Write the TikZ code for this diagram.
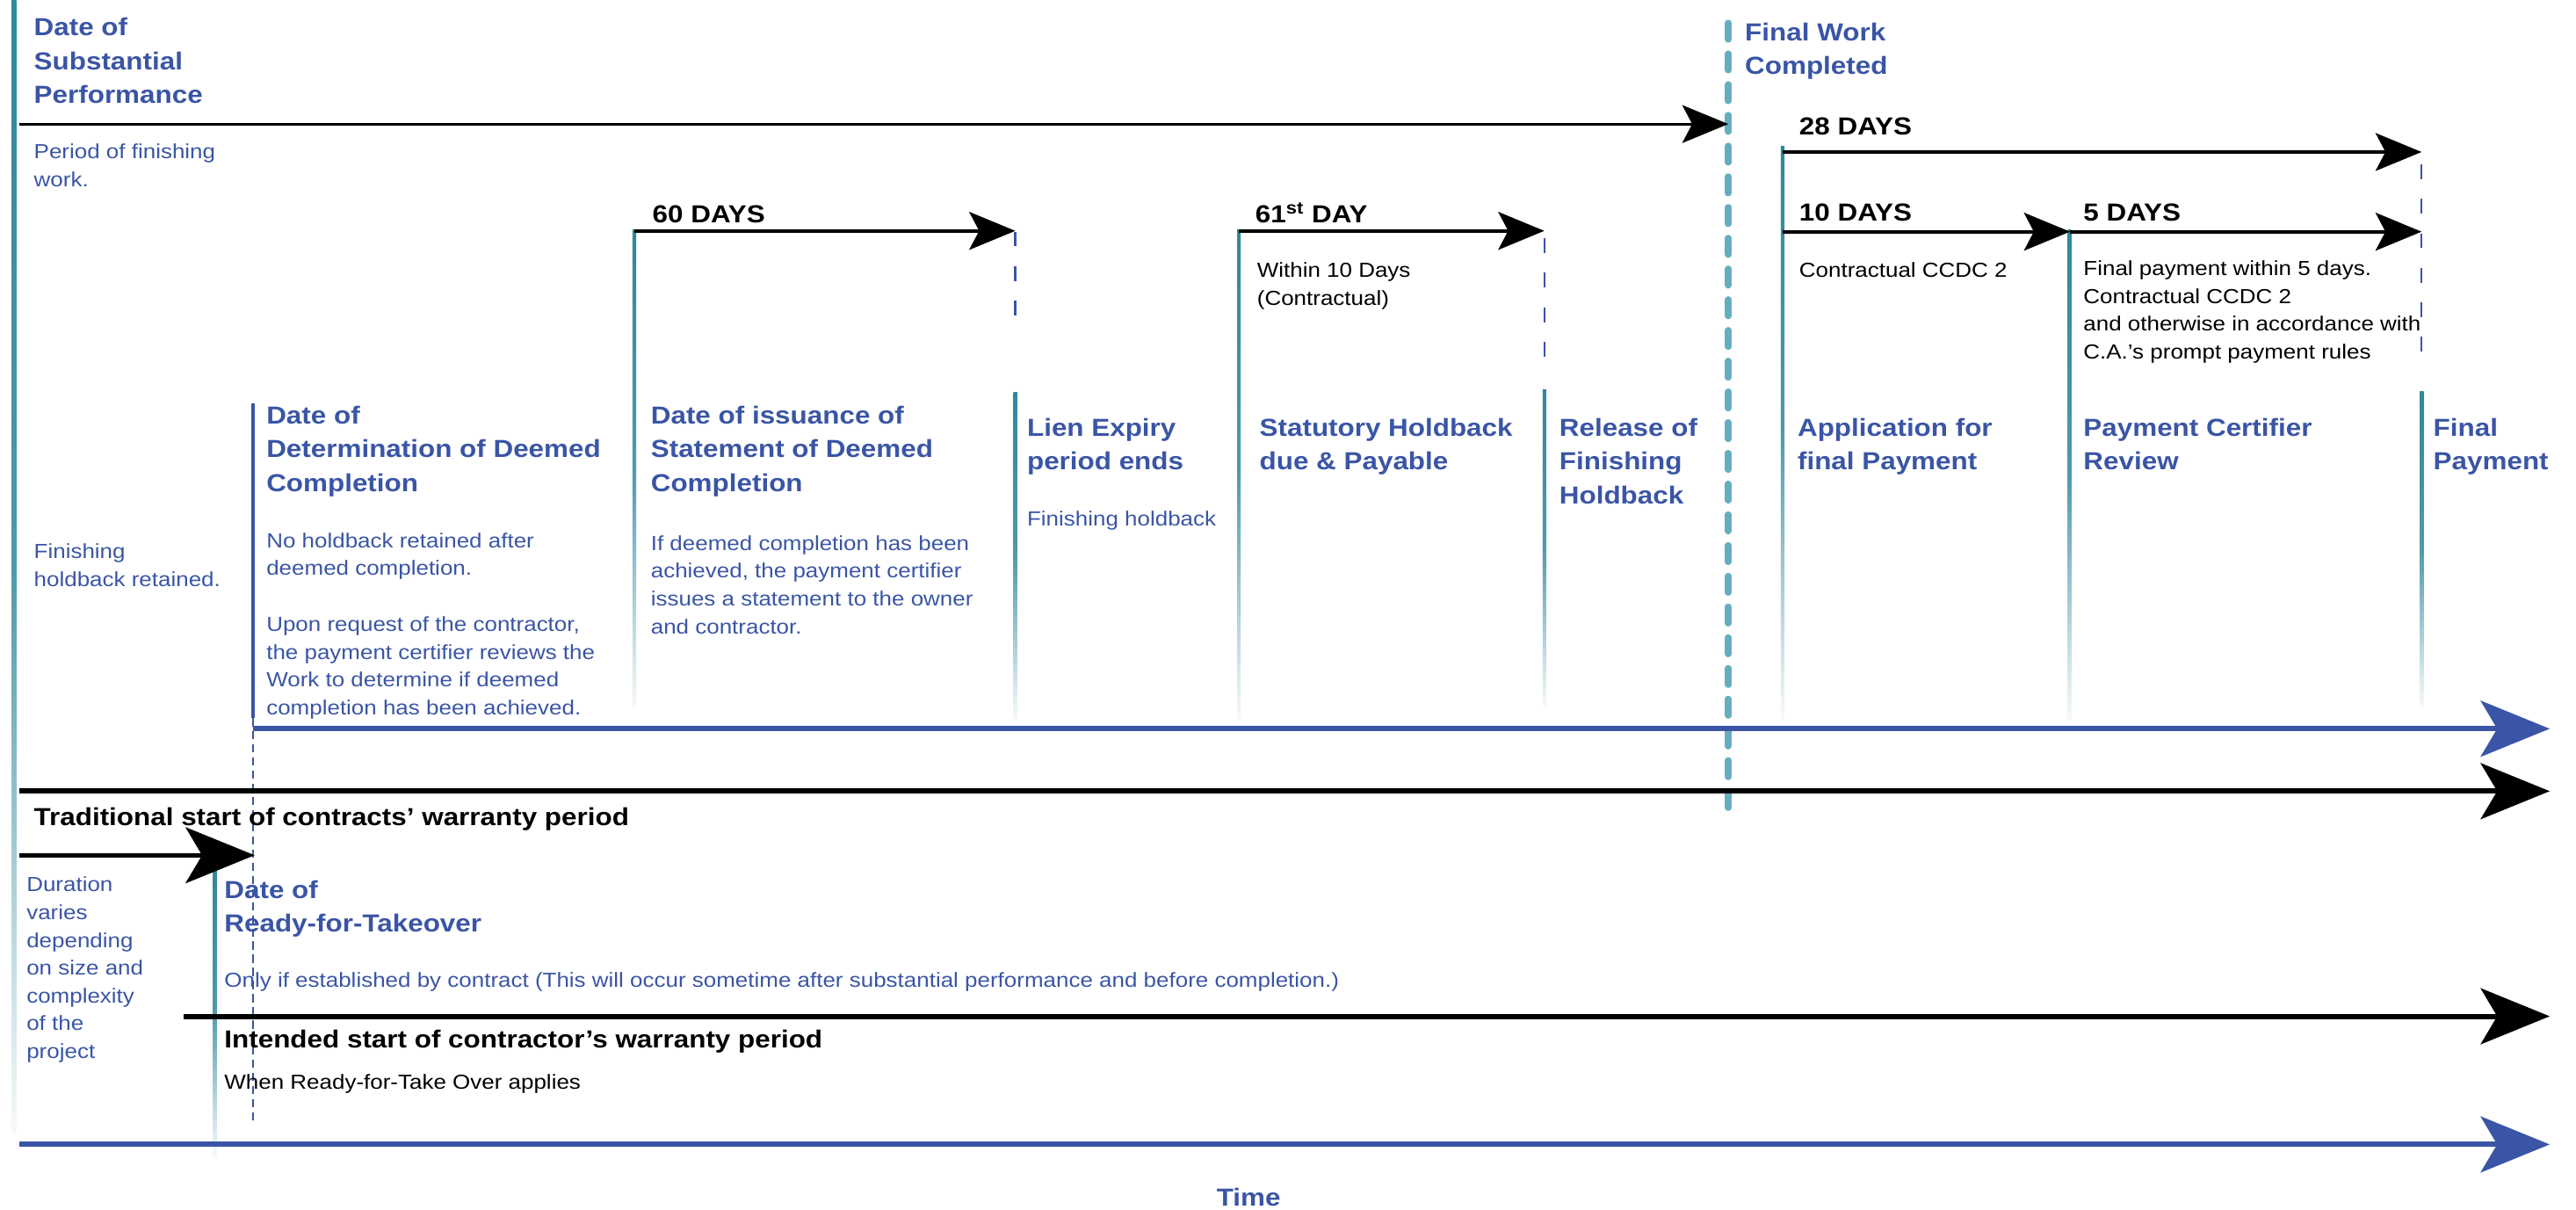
\documentclass[tikz,border=0pt]{standalone}
\usepackage{fontspec}
\setmainfont[FakeStretch=1.12]{Liberation Sans}
\usetikzlibrary{arrows.meta}
\definecolor{markblue}{HTML}{3A55A5}
\definecolor{markteal}{HTML}{2F889C}
\definecolor{fwteal}{HTML}{66ADBF}

\begin{document}
\begin{tikzpicture}[
        x=1pt, y=-1pt,
        event/.style={anchor=north west, inner sep=0pt, align=left, text=markblue, font=\fontsize{15}{20.5}\selectfont\bfseries},
        note/.style={anchor=north west, inner sep=0pt, align=left, text=markblue, font=\fontsize{12.4}{16.9}\selectfont},
        remark/.style={note, text=black},
        span/.style={event, text=black},
        bar/.style={top color=markteal, bottom color=markteal!4, middle color=markteal!85},
        dayarrow/.style={-{Stealth[length=28pt, width=23pt, inset=6pt]}, line width=2.2pt},
        longarrow/.style={-{Stealth[length=42pt, width=34pt, inset=10pt]}, line width=3.2pt},
        guide/.style={markblue, line width=1.2pt, dash pattern=on 9pt off 12pt},
        fwline/.style={fwteal, line width=4pt, line cap=round, dash pattern=on 10pt off 8.7pt},
    ]
    \useasboundingbox (0,0) rectangle (1568,736);

    % event bars
    \shade[bar] (7,0) rectangle (10,690);
    \shade[bar] (385,140) rectangle (387.2,431);
    \shade[bar] (617,239) rectangle (619.2,438);
    \shade[bar] (753,140) rectangle (755.2,438);
    \shade[bar] (939,237) rectangle (941.2,430);
    \shade[bar] (1084,89) rectangle (1086.2,438);
    \shade[bar] (1258.5,140) rectangle (1260.7,438);
    \shade[bar] (1473,238) rectangle (1475.2,430);
    \shade[bar] (129.5,524) rectangle (131.7,704);
    \fill[markblue] (153,245.5) rectangle (155.2,437);

    \draw[guide] (618,141) -- (618,200);
    \draw[guide] (940,145) -- (940,222);
    \draw[guide] (1474,100) -- (1474,220);
    \draw[markblue, line width=1pt, dash pattern=on 5pt off 3pt] (154,437) -- (154,683);
    \draw[fwline] (1052,14) -- (1052,495);

    % arrow ends
    \coordinate (spStart) at (12,75.5);
    \coordinate (fwEnd) at (1052,75.5);
    \coordinate (app28) at (1085,92.5);
    \coordinate (pay28) at (1474,92.5);
    \coordinate (issue60) at (386,140.5);
    \coordinate (lien60) at (618,140.5);
    \coordinate (due61) at (754,140.5);
    \coordinate (release61) at (940,140.5);
    \coordinate (app10) at (1085,141);
    \coordinate (review10) at (1260,141);
    \coordinate (pay5) at (1474,141);
    \coordinate (deemStart) at (154,443.5);
    \coordinate (deemEnd) at (1552,443.5);
    \coordinate (tradStart) at (12,481.5);
    \coordinate (tradEnd) at (1552,481.5);
    \coordinate (durStart) at (12,520.5);
    \coordinate (durEnd) at (155,520.5);
    \coordinate (intStart) at (112,618.5);
    \coordinate (intEnd) at (1552,618.5);
    \coordinate (timeStart) at (12,696.5);
    \coordinate (timeEnd) at (1552,696.5);

    \draw[dayarrow, line width=1.6pt] (spStart) -- (fwEnd);
    \draw[dayarrow, line width=1.8pt] (app28) -- (pay28);
    \draw[dayarrow] (issue60) -- (lien60);
    \draw[dayarrow] (due61) -- (release61);
    \draw[dayarrow] (app10) -- (review10);
    \draw[dayarrow] (review10) -- (pay5);
    \draw[longarrow, markblue] (deemStart) -- (deemEnd);
    \draw[longarrow] (tradStart) -- (tradEnd);
    \draw[longarrow, line width=2.7pt] (durStart) -- (durEnd);
    \draw[longarrow] (intStart) -- (intEnd);
    \draw[longarrow, markblue] (timeStart) -- (timeEnd);

    % labels
    \node[event] (sp) at (20.5,10.7) {Date of\\Substantial\\Performance};
    \node[note] (spnote) at (20.5,87.3) {Period of finishing\\work.};
    \node[note] (finnote) at (20.5,330.7) {Finishing\\holdback retained.};
    \node[event] (fwc) at (1062,13.8) {Final Work\\Completed};
    \node[span] (d28) at (1095,71.3) {28 DAYS};
    \node[span] (d10) at (1095,123.7) {10 DAYS};
    \node[span] (d5) at (1268,123.7) {5 DAYS};
    \node[span] (d60) at (397,124.8) {60 DAYS};
    \node[span, anchor=base west] (d61) at (764,135.3) {61\textsuperscript{st} DAY};
    \node[remark] (ccdc) at (1095,159.3) {Contractual CCDC 2};
    \node[remark] (fpnote) at (1268,158.6) {Final payment within 5 days.\\Contractual CCDC 2\\and otherwise in accordance with\\C.A.’s prompt payment rules};
    \node[remark] (within) at (765,159.8) {Within 10 Days\\(Contractual)};
    \node[event] (deter) at (162,247) {Date of\\Determination of Deemed\\Completion};
    \node[event] (issue) at (396,247) {Date of issuance of\\Statement of Deemed\\Completion};
    \node[event] (lien) at (625,254.5) {Lien Expiry\\period ends};
    \node[event] (due) at (766.5,254.5) {Statutory Holdback\\due \& Payable};
    \node[event] (release) at (949,254.5) {Release of\\Finishing\\Holdback};
    \node[event] (app) at (1094,254.5) {Application for\\final Payment};
    \node[event] (review) at (1268,254.5) {Payment Certifier\\Review};
    \node[event] (final) at (1481,254.5) {Final\\Payment};
    \node[note] (nohold) at (162,324) {No holdback retained after\\deemed completion.};
    \node[note] (request) at (162,375.2) {Upon request of the contractor,\\the payment certifier reviews the\\Work to determine if deemed\\completion has been achieved.};
    \node[note] (ifdeem) at (396,325.7) {If deemed completion has been\\achieved, the payment certifier\\issues a statement to the owner\\and contractor.};
    \node[note] (finhold) at (625,311) {Finishing holdback};
    \node[span] (trad) at (20.5,491.4) {Traditional start of contracts’ warranty period};
    \node[note] (dur) at (16,533.6) {Duration\\varies\\depending\\on size and\\complexity\\of the\\project};
    \node[event] (rft) at (136.4,535.6) {Date of\\Ready-for-Takeover};
    \node[note] (only) at (136.4,591.4) {Only if established by contract (This will occur sometime after substantial performance and before completion.)};
    \node[span] (intend) at (136.4,626.5) {Intended start of contractor’s warranty period};
    \node[remark] (when) at (136.4,653.5) {When Ready-for-Take Over applies};
    \node[event, anchor=north] (time) at (760,723) {Time};
\end{tikzpicture}
\end{document}
